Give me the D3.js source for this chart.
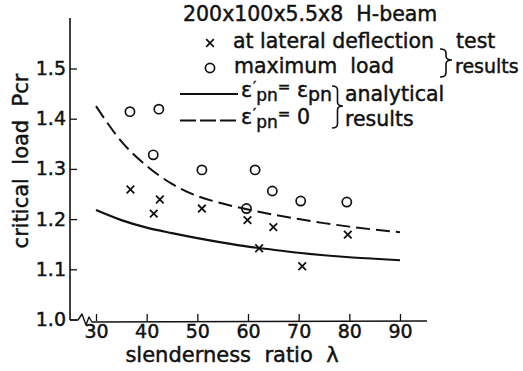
<!DOCTYPE html>
<html>
<head>
<meta charset="utf-8">
<script src="https://cdn.jsdelivr.net/npm/d3@7"></script>
<style>
  body { margin: 0; background: #fff; }
  text { font-family: "DejaVu Sans", sans-serif; fill: #111; stroke: #111; stroke-width: 0.45px; white-space: pre; }
</style>
</head>
<body>
<div id="chart"></div>
<script>
// tick values
const lambdaTicks = [30, 40, 50, 60, 70, 80, 90]
const loadTicks = [1.0, 1.1, 1.2, 1.3, 1.4, 1.5]

// test results: maximum load (circles)
const maxLoadLambda = [36.7, 42.4, 41.3, 50.9, 61.4, 59.7, 64.8, 70.4, 79.5]
const maxLoadP = [1.414, 1.419, 1.328, 1.298, 1.298, 1.221, 1.256, 1.236, 1.234]

// test results: at lateral deflection (crosses)
const lateralLambda = [36.8, 42.6, 41.4, 50.9, 59.9, 65.0, 79.7, 62.2, 70.7]
const lateralP = [1.259, 1.239, 1.211, 1.221, 1.198, 1.184, 1.169, 1.142, 1.106]

// analytical results
const curveLambda = [30, 35, 40, 45, 50, 55, 60, 65, 70, 75, 80, 85, 90]
const solidP = [1.218, 1.198, 1.183, 1.172, 1.162, 1.153, 1.145, 1.139, 1.133, 1.128, 1.124, 1.121, 1.118]
const dashedP = [1.425, 1.355, 1.306, 1.270, 1.246, 1.231, 1.219, 1.209, 1.200, 1.192, 1.185, 1.179, 1.174]

const width = 523
const height = 371
const axisX = 70
const axisY = 320

const svg = d3.select("#chart")
  .append("svg")
  .attr("width", width)
  .attr("height", height)

const x = d3.scaleLinear().domain([30, 90]).range([96, 400])
const y = d3.scaleLinear().domain([1.0, 1.5]).range([319.5, 68.5])

// axis lines (x axis has a break near the origin)
svg.append("path")
  .attr("d", `M${axisX},18 L${axisX},${axisY}`)
  .attr("stroke", "#111").attr("stroke-width", 1.6).attr("fill", "none")

const bx = axisX + 8
svg.append("path")
  .attr("d", `M${axisX},${axisY} L${bx},${axisY} L${bx + 4},${axisY - 6} L${bx + 8},${axisY + 5} ` +
    `L${bx + 11},${axisY - 3} L${bx + 14},${axisY + 2} L${x(90) + 27},${axisY + 1}`)
  .attr("stroke", "#111").attr("stroke-width", 1.4).attr("fill", "none")
  .attr("stroke-linejoin", "round")

const xAxis = svg.append("g")
  .attr("transform", `translate(0, ${axisY + 1})`)
  .call(d3.axisBottom(x).tickValues(lambdaTicks).tickSize(-7).tickPadding(3))
xAxis.select(".domain").remove()

const yAxis = svg.append("g")
  .attr("transform", `translate(${axisX}, 0)`)
  .call(d3.axisLeft(y).tickValues(loadTicks).tickSize(-7).tickPadding(4).tickFormat(d3.format(".1f")))
yAxis.select(".domain").remove()

svg.selectAll(".tick line").attr("stroke", "#111").attr("stroke-width", 1.3)
svg.selectAll(".tick text")
  .attr("font-size", 19)
  .style("font-family", "DejaVu Sans, sans-serif")
  .attr("fill", "#111")

// axis titles
svg.append("text")
  .attr("x", 232).attr("y", 362)
  .attr("text-anchor", "middle")
  .attr("font-size", 21)
  .text("slenderness  ratio  λ")

svg.append("text")
  .attr("transform", "translate(28, 161) rotate(-90)")
  .attr("text-anchor", "middle")
  .attr("font-size", 21)
  .text("critical  load  Pcr")

// analytical curves
const line = d3.line()
  .x(d => x(d[0]))
  .y(d => y(d[1]))
  .curve(d3.curveMonotoneX)

svg.append("path")
  .datum(d3.zip(curveLambda, solidP))
  .attr("d", line)
  .attr("fill", "none").attr("stroke", "#111").attr("stroke-width", 2.2)

svg.append("path")
  .datum(d3.zip(curveLambda, dashedP))
  .attr("d", line)
  .attr("fill", "none").attr("stroke", "#111").attr("stroke-width", 2)
  .attr("stroke-dasharray", "14,6")

// markers
function drawCross(g, cx, cy) {
  const s = 3.8
  g.append("path")
    .attr("d", `M${cx - s},${cy - s} L${cx + s},${cy + s} M${cx - s},${cy + s} L${cx + s},${cy - s}`)
    .attr("stroke", "#111").attr("stroke-width", 1.8).attr("fill", "none")
}

function drawCircle(g, cx, cy) {
  g.append("circle")
    .attr("cx", cx).attr("cy", cy).attr("r", 4.6)
    .attr("fill", "none").attr("stroke", "#111").attr("stroke-width", 1.7)
}

const marks = svg.append("g")
d3.zip(maxLoadLambda, maxLoadP).forEach(d => drawCircle(marks, x(d[0]), y(d[1])))
d3.zip(lateralLambda, lateralP).forEach(d => drawCross(marks, x(d[0]), y(d[1])))

// legend
const legend = svg.append("g").attr("font-size", 20.5)

legend.append("text").attr("x", 183).attr("y", 21).text("200x100x5.5x8  H-beam")

drawCross(legend, 210, 43)
legend.append("text").attr("x", 233).attr("y", 48).text("at lateral deflection")
drawCircle(legend, 210, 68)
legend.append("text").attr("x", 234).attr("y", 73).text("maximum  load")

legend.append("text").attr("x", 456).attr("y", 48).text("test")
legend.append("text").attr("x", 455).attr("y", 73)
  .attr("font-size", 19).text("results")

legend.append("path")
  .attr("d", "M180,94 L238,94")
  .attr("stroke", "#111").attr("stroke-width", 2.2)
legend.append("path")
  .attr("d", "M180,120.5 L238,120.5")
  .attr("stroke", "#111").attr("stroke-width", 2).attr("stroke-dasharray", "16,4")

function epsText(yPos) {
  const t = legend.append("text").attr("x", 241).attr("y", yPos)
  t.append("tspan").text("ε")
  t.append("tspan").attr("dx", 1).attr("dy", -6).attr("font-size", 14).text("′")
  t.append("tspan").attr("dy", 10).attr("font-size", 17).text("pn")
  t.append("tspan").attr("dy", -9).attr("font-size", 15).text("=")
  return t
}
const e1 = epsText(97)
e1.append("tspan").attr("dy", 5).text(" ε")
e1.append("tspan").attr("dy", 4).attr("font-size", 19).text("pn")
const e2 = epsText(124)
e2.append("tspan").attr("dy", 5).text(" 0")

legend.append("text").attr("x", 345).attr("y", 101).text("analytical")
legend.append("text").attr("x", 345).attr("y", 126).text("results")

function brace(x0, y1, y2, tipY, w) {
  const h = x0 + w / 2
  return `M${x0},${y1} Q${h},${y1} ${h},${y1 + 4} L${h},${tipY - 4} Q${h},${tipY} ${x0 + w},${tipY} ` +
    `Q${h},${tipY} ${h},${tipY + 4} L${h},${y2 - 4} Q${h},${y2} ${x0},${y2}`
}
legend.append("path")
  .attr("d", brace(440, 49, 77, 60, 12))
  .attr("fill", "none").attr("stroke", "#111").attr("stroke-width", 1.6)
legend.append("path")
  .attr("d", brace(332, 86, 128, 106, 11))
  .attr("fill", "none").attr("stroke", "#111").attr("stroke-width", 1.6)
</script>
</body>
</html>
